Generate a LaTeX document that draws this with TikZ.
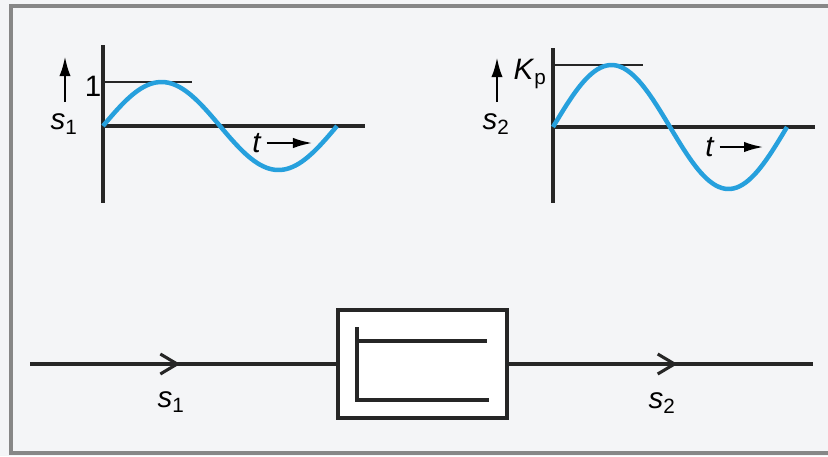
\documentclass[tikz,border=0pt]{standalone}
\usepackage{fontspec}
\setmainfont{Liberation Sans}
\usepackage{tikz}
\usetikzlibrary{arrows.meta, decorations.markings, positioning}
\definecolor{paper}{RGB}{244,245,247}
\definecolor{framegray}{RGB}{135,135,135}
\definecolor{waveblue}{RGB}{38,160,221}
\newcommand{\sig}[2]{\textit{#1}\textsubscript{#2}}
\tikzset{
  every node/.style={font=\fontsize{21}{24}\selectfont, inner sep=0pt},
  axis/.style={line width=2.2pt, draw=black!85},
  wave/.style={line width=3.2pt, draw=waveblue},
  levelline/.style={line width=1.3pt, draw=black!85},
  tarr/.style={line width=2pt, -{Latex[length=0.5cm, width=0.26cm]}},
  uparr/.style={line width=2pt, -{Latex[length=0.5cm, width=0.28cm]}},
  blockbox/.style={draw=black!85, line width=2.2pt, fill=white, minimum width=4.225cm, minimum height=2.7cm},
  blockline/.style={line width=2.2pt, draw=black!85},
  sigline/.style={line width=2.2pt, draw=black!85},
  midarr/.style={postaction={decorate}, decoration={markings,
      mark=at position #1 with {\arrow{Straight Barb[length=0.42cm, width=0.5cm]}}}}
}

\begin{document}
\begin{tikzpicture}[x=0.025cm, y=-0.025cm]
        \useasboundingbox (0,0) rectangle (828,456);
        % Background and frame
        \fill[paper] (0,0) rectangle (828,456);
        \draw[framegray, line width=2.4pt] (828,6) -- (11,6) -- (11,453) -- (828,453);

        % Input signal plot
        \draw[axis] (103,45) -- (103,203);
        \draw[axis] (103,126) -- (365,126);
        \draw[levelline] (103,82) -- (192,82);
        \draw[wave] plot[domain=0:360, samples=80, smooth] ({103+0.65*\x},{126-44*sin(\x)});
        \node (one) at (93,86) {1};
        \coordinate (u1b) at (65,102);
        \coordinate (u1t) at (65,56);
        \draw[uparr] (u1b) -- (u1t);
        \node (s1a) at (64,124) {\sig{s}{1}};
        \node (t1) at (257,143) {\textit{t}};
        \coordinate (t1e) at (313,143);
        \draw[tarr, shorten <=0.12cm] (t1) -- (t1e);

        % Output signal plot
        \draw[axis] (553,48) -- (553,203);
        \draw[axis] (553,127) -- (815,127);
        \draw[levelline] (553,65) -- (643,65);
        \draw[wave] plot[domain=0:360, samples=80, smooth] ({553+0.65*\x},{127-62*sin(\x)});
        \node (kp) at (530,74) {\textit{K}\textsubscript{p}};
        \coordinate (u2b) at (497,102);
        \coordinate (u2t) at (497,57);
        \draw[uparr] (u2b) -- (u2t);
        \node (s2a) at (496,124) {\sig{s}{2}};
        \node (t2) at (710,147) {\textit{t}};
        \coordinate (t2e) at (764,147);
        \draw[tarr, shorten <=0.12cm] (t2) -- (t2e);

        % Transfer block
        \coordinate (in) at (30,364);
        \coordinate (out) at (813,364);
        \node[blockbox] (blk) at (422.5,364) {};
        \draw[blockline] (357,327) -- (357,400) -- (489,400);
        \draw[blockline] (357,341) -- (487,341);

        % Signal path
        \draw[sigline, midarr=0.49] (in) -- (blk);
        \draw[sigline, midarr=0.555] (blk) -- (out);
        \node (s1b) at (171,402) {\sig{s}{1}};
        \node (s2b) at (662,403) {\sig{s}{2}};
\end{tikzpicture}
\end{document}
